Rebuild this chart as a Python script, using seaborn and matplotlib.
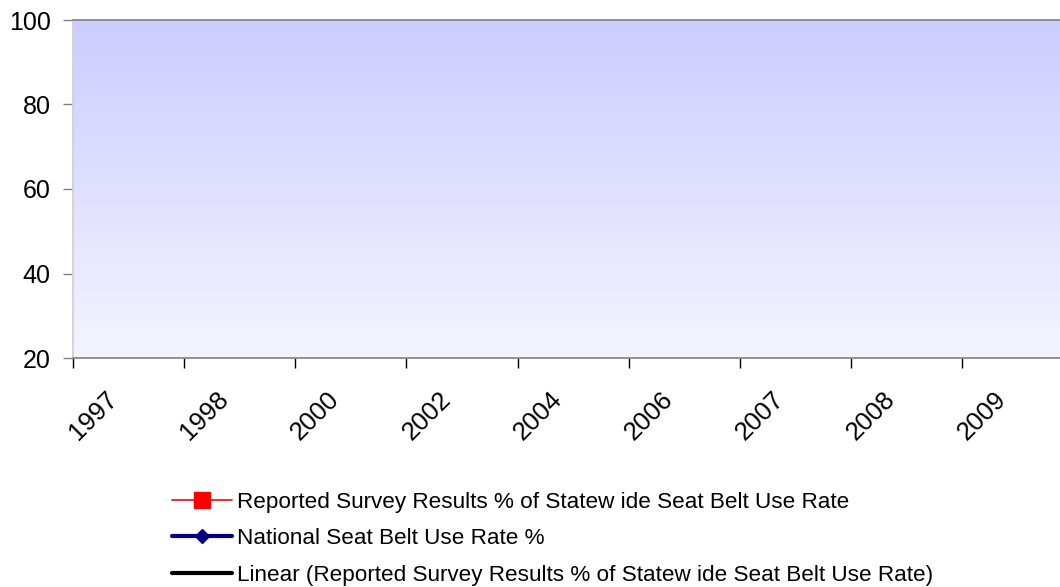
import numpy as np
import matplotlib.pyplot as plt
import matplotlib.transforms as mtransforms
from matplotlib.colors import LinearSegmentedColormap
import seaborn as sns

# Data: years on the category axis; no series values are drawn in the chart
years = ['1997', '1998', '2000', '2002', '2004', '2006', '2007', '2008', '2009']
statewide_rate = [np.nan] * len(years)
national_rate = [np.nan] * len(years)
linear_trend = [np.nan] * len(years)

series_labels = [
    'Reported Survey Results % of Statew ide Seat Belt Use Rate',
    'National Seat Belt Use Rate %',
    'Linear (Reported Survey Results % of Statew ide Seat Belt Use Rate)',
]

sns.set_theme(style='white')
plt.rcParams['font.family'] = ['Liberation Sans', 'DejaVu Sans']

fig = plt.figure(figsize=(10.6, 5.87), dpi=100)
ax = fig.add_axes([73 / 1060, 1 - 358 / 587, 1 - 73 / 1060 + 0.002, (358 - 20) / 587])

x = np.arange(len(years))
xmax = len(years) - 0.6
ax.set_xlim(-0.5, xmax)
ax.set_ylim(20, 100)

# gradient plot-area fill
grad = LinearSegmentedColormap.from_list('bg', ['#F4F4FF', '#CCCCFF'])
ax.imshow(np.linspace(0, 1, 256).reshape(-1, 1), cmap=grad, aspect='auto',
          extent=[-0.5, xmax, 20, 100], origin='lower', zorder=0)

ax.plot(x, statewide_rate, color='#FF0000', lw=1.2, marker='s', ms=11, label=series_labels[0])
ax.plot(x, national_rate, color='#000080', lw=3, marker='D', ms=7, label=series_labels[1])
ax.plot(x, linear_trend, color='#000000', lw=3, label=series_labels[2])

ax.set_yticks([20, 40, 60, 80, 100])
ax.tick_params(axis='y', labelsize=18, length=7, width=1, color='#808080',
               labelcolor='black', direction='out', left=True, pad=9)

ax.set_xticks(x)
ax.set_xticklabels(years, rotation=45, ha='right', va='center', rotation_mode='anchor')
ax.tick_params(axis='x', which='major', length=0, labelsize=18.5, labelcolor='black', pad=27)
shift = mtransforms.ScaledTranslation(-15 / 100, 0, fig.dpi_scale_trans)
for lab in ax.get_xticklabels():
    lab.set_transform(lab.get_transform() + shift)
ax.set_xticks(x - 0.5, minor=True)
ax.tick_params(axis='x', which='minor', length=7, width=1, color='#000000',
               direction='out', bottom=True)

for side in ['top', 'bottom']:
    ax.spines[side].set_color('#808080')
    ax.spines[side].set_linewidth(1.2)
ax.spines['left'].set_color('#D0D0D0')
ax.spines['right'].set_visible(False)

fig.legend(loc='upper left', bbox_to_anchor=(172 / 1060, 1 - 492 / 587),
           frameon=False, fontsize=16.2, handlelength=2.67, handletextpad=0.22,
           labelspacing=0.68, borderpad=0, borderaxespad=0, labelcolor='black')

fig.savefig('out.png', dpi=100)
